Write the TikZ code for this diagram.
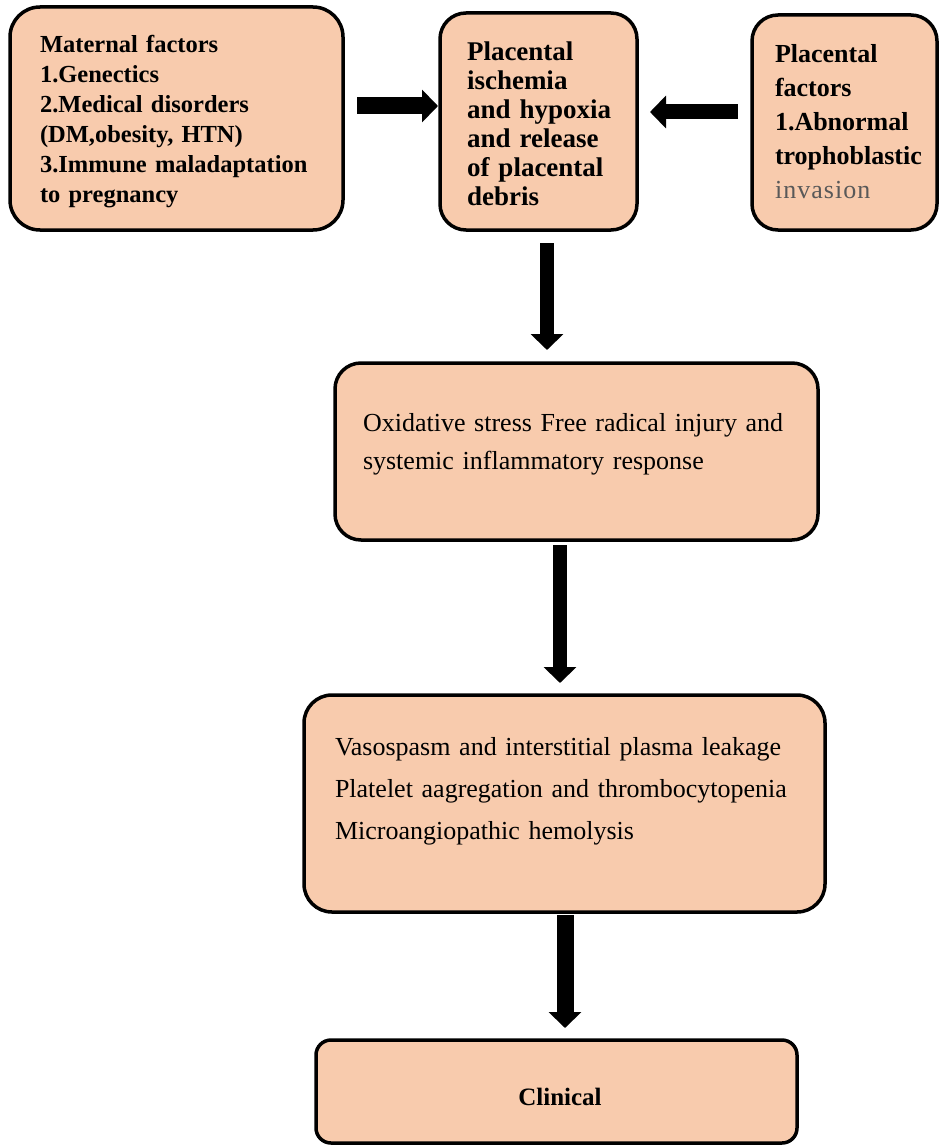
\documentclass[tikz,border=0pt]{standalone}
\usepackage{fontspec}
\setmainfont{Liberation Serif}
\usetikzlibrary{arrows.meta}
\definecolor{peach}{HTML}{F8CBAD}
\begin{document}
\begin{tikzpicture}[x=1pt,y=-1pt,
  box/.style={draw=black, fill=peach, line width=3.5pt, rounded corners=#1, outer sep=0pt, inner sep=0pt},
  box/.default=26pt,
  txt/.style={anchor=base west, inner sep=0pt, outer sep=0pt, align=left, text width=#1},
  bigarrow/.style={line width=15pt, -{Triangle[width=32pt,length=16pt]}},
]
\useasboundingbox (0,0) rectangle (940,1145);
% boxes
\node[box=30pt, minimum width=333pt, minimum height=223pt] (b1) at (176.5,118.5) {};
\node[box=26pt, minimum width=197pt, minimum height=217pt] (b2) at (538.5,121.5) {};
\node[box=26pt, minimum width=185pt, minimum height=215pt] (b3) at (844.5,122.5) {};
\node[box=26pt, minimum width=483pt, minimum height=177pt] (b4) at (576.5,451.5) {};
\node[box=28pt, minimum width=521pt, minimum height=217pt] (b5) at (564.5,803.5) {};
\node[box=15pt, minimum width=481pt, minimum height=103pt] (b6) at (556.5,1091.5) {};
% texts
\node[txt=320pt, font=\fontsize{24.5}{30}\selectfont\bfseries] (t1) at (40,53)
  {Maternal factors\\1.Genectics\\2.Medical disorders\\(DM,obesity, HTN)\\3.Immune maladaptation\\to pregnancy};
\node[txt=165pt, font=\fontsize{27}{29}\selectfont\bfseries] (t2) at (467,61)
  {Placental\\ischemia\\and hypoxia\\and release\\of placental\\debris};
\node[txt=160pt, font=\fontsize{26}{34}\selectfont\bfseries] (t3) at (775,63)
  {Placental\\factors\\1.Abnormal\\trophoblastic\\{\mdseries\color{black!65}\addfontfeature{LetterSpace=4}invasion}};
\node[txt=445pt, font=\fontsize{26}{38}\selectfont] (t4) at (363,431)
  {Oxidative stress Free radical injury and\\systemic inflammatory response};
\node[txt=485pt, font=\fontsize{26}{42}\selectfont] (t5) at (335,755)
  {Vasospasm and interstitial plasma leakage\\Platelet aagregation and thrombocytopenia\\Microangiopathic hemolysis};
\node[inner sep=0pt, font=\fontsize{25}{30}\selectfont\bfseries] (t6) at (560,1097) {Clinical};
% arrows
\draw[bigarrow, line width=17pt] ([xshift=14pt,yshift=12.5pt]b1.east) -- ([xshift=-2pt,yshift=15.5pt]b2.west);
\draw[bigarrow] ([xshift=-14pt,yshift=10.5pt]b3.west) -- ([xshift=13pt,yshift=9.5pt]b2.east);
\draw[bigarrow, line width=14pt] ([xshift=8.5pt,yshift=-13pt]b2.south) -- ([xshift=-29.5pt,yshift=13pt]b4.north);
\draw[bigarrow, line width=14pt] ([xshift=-16.5pt,yshift=-5pt]b4.south) -- ([xshift=-4.5pt,yshift=12pt]b5.north);
\draw[bigarrow, line width=17pt] ([xshift=0.5pt,yshift=-3pt]b5.south) -- ([xshift=8.5pt,yshift=12pt]b6.north);
\end{tikzpicture}
\end{document}
